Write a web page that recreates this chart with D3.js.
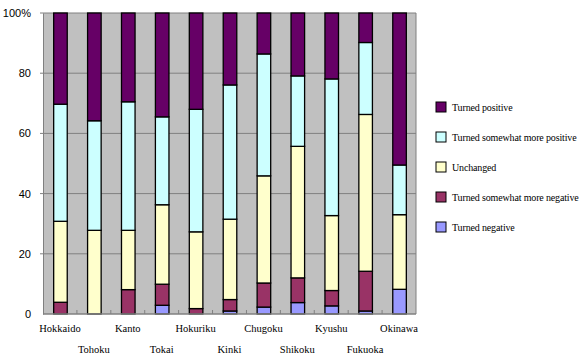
<!DOCTYPE html>
<html>
<head>
<meta charset="utf-8">
<script src="https://cdn.jsdelivr.net/npm/d3@7"></script>
<style>
  body { margin: 0; background: #fff; }
  svg { display: block; }
  .serif { font-family: "Liberation Serif", serif; }
  .tick text { font-family: "Liberation Sans", sans-serif; }
</style>
</head>
<body>
<svg id="chart"></svg>
<script>
const regions = ["Hokkaido", "Tohoku", "Kanto", "Tokai", "Hokuriku", "Kinki", "Chugoku", "Shikoku", "Kyushu", "Fukuoka", "Okinawa"]
// stacked bottom to top
const series = ["Turned negative", "Turned somewhat more negative", "Unchanged", "Turned somewhat more positive", "Turned positive"]
const colors = ["#9999FF", "#993366", "#FFFFCC", "#CCFFFF", "#660066"]

const turnedNegative     = [0,    0,    0,    2.9,  0,    1.0,  2.3,  3.8,  2.7,  1.0,  8.2]
const somewhatNegative   = [3.9,  0,    8.1,  7.0,  1.8,  3.8,  8.0,  8.2,  5.1,  13.2, 0]
const unchanged          = [26.9, 27.8, 19.7, 26.4, 25.5, 26.7, 35.6, 43.7, 24.9, 52.1, 24.8]
const somewhatPositive   = [38.9, 36.4, 42.7, 29.2, 40.7, 44.6, 40.5, 23.4, 45.4, 23.9, 16.5]
const turnedPositive     = [30.3, 35.8, 29.5, 34.5, 32.0, 23.9, 13.6, 20.9, 21.9, 9.8,  50.5]

const yTicks = [0, 20, 40, 60, 80, 100]

const width = 587, height = 362
const margins = { top: 13, bottom: 48, left: 43, right: 171 }

const table = regions.map((r, i) => ({
  region: r,
  [series[0]]: turnedNegative[i],
  [series[1]]: somewhatNegative[i],
  [series[2]]: unchanged[i],
  [series[3]]: somewhatPositive[i],
  [series[4]]: turnedPositive[i]
}))

const stack = d3.stack().keys(series).offset(d3.stackOffsetExpand)(table)

let svg = d3.select("#chart").attr("width", width).attr("height", height)

let x = d3.scaleBand(regions, [margins.left, width - margins.right]).paddingInner(0.6).paddingOuter(0.3)
let xb = d3.scaleBand(regions, [margins.left, width - margins.right])
let y = d3.scaleLinear([0, 100], [height - margins.bottom, margins.top])
let color = d3.scaleOrdinal(series, colors)

// plot background
svg.append("rect")
  .attr("x", margins.left).attr("y", margins.top)
  .attr("width", width - margins.left - margins.right)
  .attr("height", height - margins.top - margins.bottom)
  .style("fill", "#C0C0C0")

// gridlines
svg.append("g").selectAll("line").data(yTicks.filter(d => d > 0)).join("line")
  .attr("x1", margins.left - 3).attr("x2", width - margins.right)
  .attr("y1", d => y(d)).attr("y2", d => y(d))
  .style("stroke", "#808080").style("stroke-width", 1)

// right border
svg.append("line")
  .attr("x1", width - margins.right).attr("x2", width - margins.right)
  .attr("y1", margins.top).attr("y2", y(0))
  .style("stroke", "#808080")

// bars
svg.append("g").selectAll("g").data(stack).join("g")
  .style("fill", d => color(d.key))
  .selectAll("rect").data(d => d.filter(p => p[1] - p[0] > 0)).join("rect")
  .attr("x", d => x(d.data.region) + 0.5)
  .attr("y", d => y(d[1] * 100))
  .attr("width", x.bandwidth())
  .attr("height", d => y(d[0] * 100) - y(d[1] * 100))
  .style("stroke", "#000").style("stroke-width", 1.3)

// y axis
let yAxis = svg.append("g")
  .attr("transform", `translate(${margins.left},0)`)
  .call(d3.axisLeft(y).tickValues(yTicks).tickSize(0).tickPadding(12)
    .tickFormat(d => d === 100 ? "100%" : d))
yAxis.select(".domain").style("stroke", "#808080")
yAxis.selectAll("text").style("font-size", "11px").style("fill", "#000")

// x axis line + inner ticks at band boundaries
svg.append("line")
  .attr("x1", margins.left).attr("x2", width - margins.right)
  .attr("y1", y(0)).attr("y2", y(0))
  .style("stroke", "#808080").style("stroke-width", 1.5)
svg.append("g").selectAll("line").data(regions.slice(1)).join("line")
  .attr("x1", d => xb(d)).attr("x2", d => xb(d))
  .attr("y1", y(0)).attr("y2", y(0) - 4)
  .style("stroke", "#808080")

// category labels, staggered
svg.append("g").attr("class", "serif").selectAll("text").data(regions).join("text")
  .attr("x", d => xb(d) + xb.bandwidth() / 2)
  .attr("y", (d, i) => i % 2 === 0 ? 332 : 353)
  .attr("text-anchor", "middle")
  .style("font-size", "10.5px")
  .text(d => d)

// legend, top to bottom
let legendItems = series.slice().reverse()
let legend = svg.append("g").attr("class", "serif").selectAll("g").data(legendItems).join("g")
  .attr("transform", (d, i) => `translate(436,${102 + i * 30})`)
legend.append("rect")
  .attr("width", 10).attr("height", 10)
  .style("fill", d => color(d)).style("stroke", "#000").style("stroke-width", 1)
legend.append("text")
  .attr("x", 16).attr("y", 8.5)
  .style("font-size", "10px")
  .style("letter-spacing", "-0.15px")
  .text(d => d)
</script>
</body>
</html>
